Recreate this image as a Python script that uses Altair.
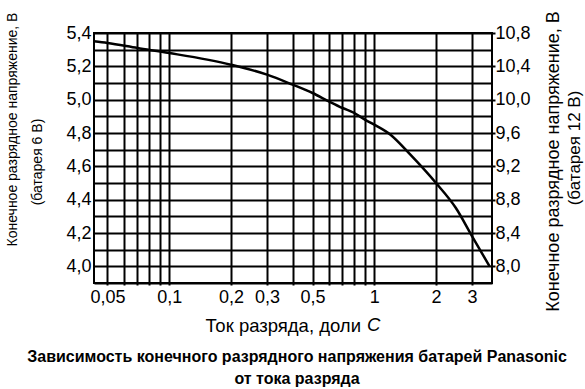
import json
import altair as alt
import pandas as pd

# ---- data ----
current = [0.043, 0.05, 0.07, 0.1, 0.2, 0.3, 0.4, 0.5, 0.6, 0.7, 0.8, 0.9, 1.0, 1.2, 1.5, 2.0, 2.5, 3.0, 3.65]
volt6 = [5.35, 5.34, 5.31, 5.28, 5.21, 5.15, 5.09, 5.04, 4.99, 4.95, 4.92, 4.88, 4.85, 4.79, 4.67, 4.50, 4.35, 4.18, 4.00]

x_grid = [0.05, 0.06, 0.07, 0.08, 0.09, 0.1, 0.2, 0.3, 0.4, 0.5, 0.6, 0.7, 0.8, 0.9, 1, 2, 3]
x_labels = [0.05, 0.1, 0.2, 0.3, 0.5, 1, 2, 3]
y_grid = [3.9, 4.0, 4.1, 4.2, 4.3, 4.4, 4.5, 4.6, 4.7, 4.8, 4.9, 5.0, 5.1, 5.2, 5.3, 5.4]
y12_ticks = [8.0, 8.4, 8.8, 9.2, 9.6, 10.0, 10.4, 10.8]

left_title_1 = "Конечное разрядное напряжение, В"
left_title_2 = ["(батарея 6 В)"]
right_title_1 = "Конечное разрядное напряжение, В"
right_title_2 = ["(батарея 12 В)"]
x_title = "Ток разряда, доли"
x_title_c = ["C"]
caption = ["Зависимость конечного разрядного напряжения батарей Panasonic", "от тока разряда"]

FONT = "Liberation Sans"
TICK_FS = 18

df = pd.DataFrame({"I": current, "V6": volt6})

x_label_expr = (
    "indexof(" + json.dumps(x_labels) + ", datum.value) >= 0 ? "
    "replace(format(datum.value, '~g'), '.', ',') : ''"
)

x_enc = alt.X(
    "I:Q",
    scale=alt.Scale(type="log", domain=[0.043, 3.75], nice=False),
    axis=alt.Axis(
        values=x_grid, labelExpr=x_label_expr,
        grid=True, gridColor="black", gridWidth=2, gridOpacity=1,
        domain=False, ticks=True, tickColor="black", tickWidth=2, tickSize=2,
        labelFont=FONT, labelFontSize=TICK_FS, labelColor="black", labelPadding=3,
        labelFlush=False, labelOverlap=False,
        title=x_title, titleFont=FONT, titleFontSize=18.5, titleFontWeight="normal",
        titleColor="black", titleX=111, titleY=42, titleAlign="left", titleBaseline="middle",
    ),
)

line = alt.Chart(df).mark_line(color="black", strokeWidth=2.5, interpolate="monotone").encode(
    x=x_enc,
    y=alt.Y(
        "V6:Q",
        scale=alt.Scale(domain=[3.9, 5.4], nice=False, zero=False),
        axis=alt.Axis(
            values=y_grid,
            labelExpr="round(datum.value*10) % 2 == 0 ? replace(format(datum.value, '.1f'), '.', ',') : ''",
            grid=True, gridColor="black", gridWidth=2, gridOpacity=1,
            domain=False, ticks=False,
            labelFont=FONT, labelFontSize=TICK_FS, labelColor="black", labelPadding=3,
            labelOverlap=False, labelFlush=False,
            title=left_title_1, titleFont=FONT, titleFontSize=14, titleFontWeight="normal",
            titleColor="black", titleAngle=270, titleX=-82, titleY=96,
            titleAlign="center", titleBaseline="middle",
        ),
    ),
)

right = alt.Chart(df).transform_calculate(V12="datum.V6 * 2").mark_line(opacity=0).encode(
    x=x_enc,
    y=alt.Y(
        "V12:Q",
        scale=alt.Scale(domain=[7.8, 10.8], nice=False, zero=False),
        axis=alt.Axis(
            orient="right", values=y12_ticks,
            labelExpr="replace(format(datum.value, '.1f'), '.', ',')",
            grid=False, domain=False, ticks=True, tickColor="black", tickWidth=2, tickSize=3,
            labelFont=FONT, labelFontSize=TICK_FS, labelColor="black", labelPadding=0,
            labelOverlap=False, labelFlush=False,
            title=right_title_1, titleFont=FONT, titleFontSize=18, titleFontWeight="normal",
            titleColor="black", titleAngle=270, titleX=61, titleY=128,
            titleAlign="center", titleBaseline="middle",
        ),
    ),
)

lt2 = alt.Chart(pd.DataFrame({"t": left_title_2})).mark_text(
    angle=270, font=FONT, fontSize=14, color="black", align="center", baseline="middle"
).encode(text="t:N", x=alt.value(-56), y=alt.value(129))

rt2 = alt.Chart(pd.DataFrame({"t": right_title_2})).mark_text(
    angle=270, font=FONT, fontSize=17, color="black", align="center", baseline="middle"
).encode(text="t:N", x=alt.value(481), y=alt.value(115))

c_mark = alt.Chart(pd.DataFrame({"t": x_title_c})).mark_text(
    font=FONT, fontSize=18.5, fontStyle="italic", color="black", align="left", baseline="middle"
).encode(text="t:N", x=alt.value(273), y=alt.value(292))

chart = alt.layer(line, right, lt2, rt2, c_mark).resolve_scale(y="independent").properties(
    width=398, height=250,
    autosize=alt.AutoSizeParams(type="none"),
    padding={"left": 94, "top": 33, "right": 93, "bottom": 106},
    background="white",
    title=alt.TitleParams(
        text=caption, orient="bottom", anchor="middle", font=FONT, fontSize=16,
        fontWeight="bold", color="black", offset=14, lineHeight=22, dx=4,
    ),
).configure_view(stroke="black", strokeWidth=2)

chart.save("out.html", embed_options={"renderer": "svg", "actions": False})
